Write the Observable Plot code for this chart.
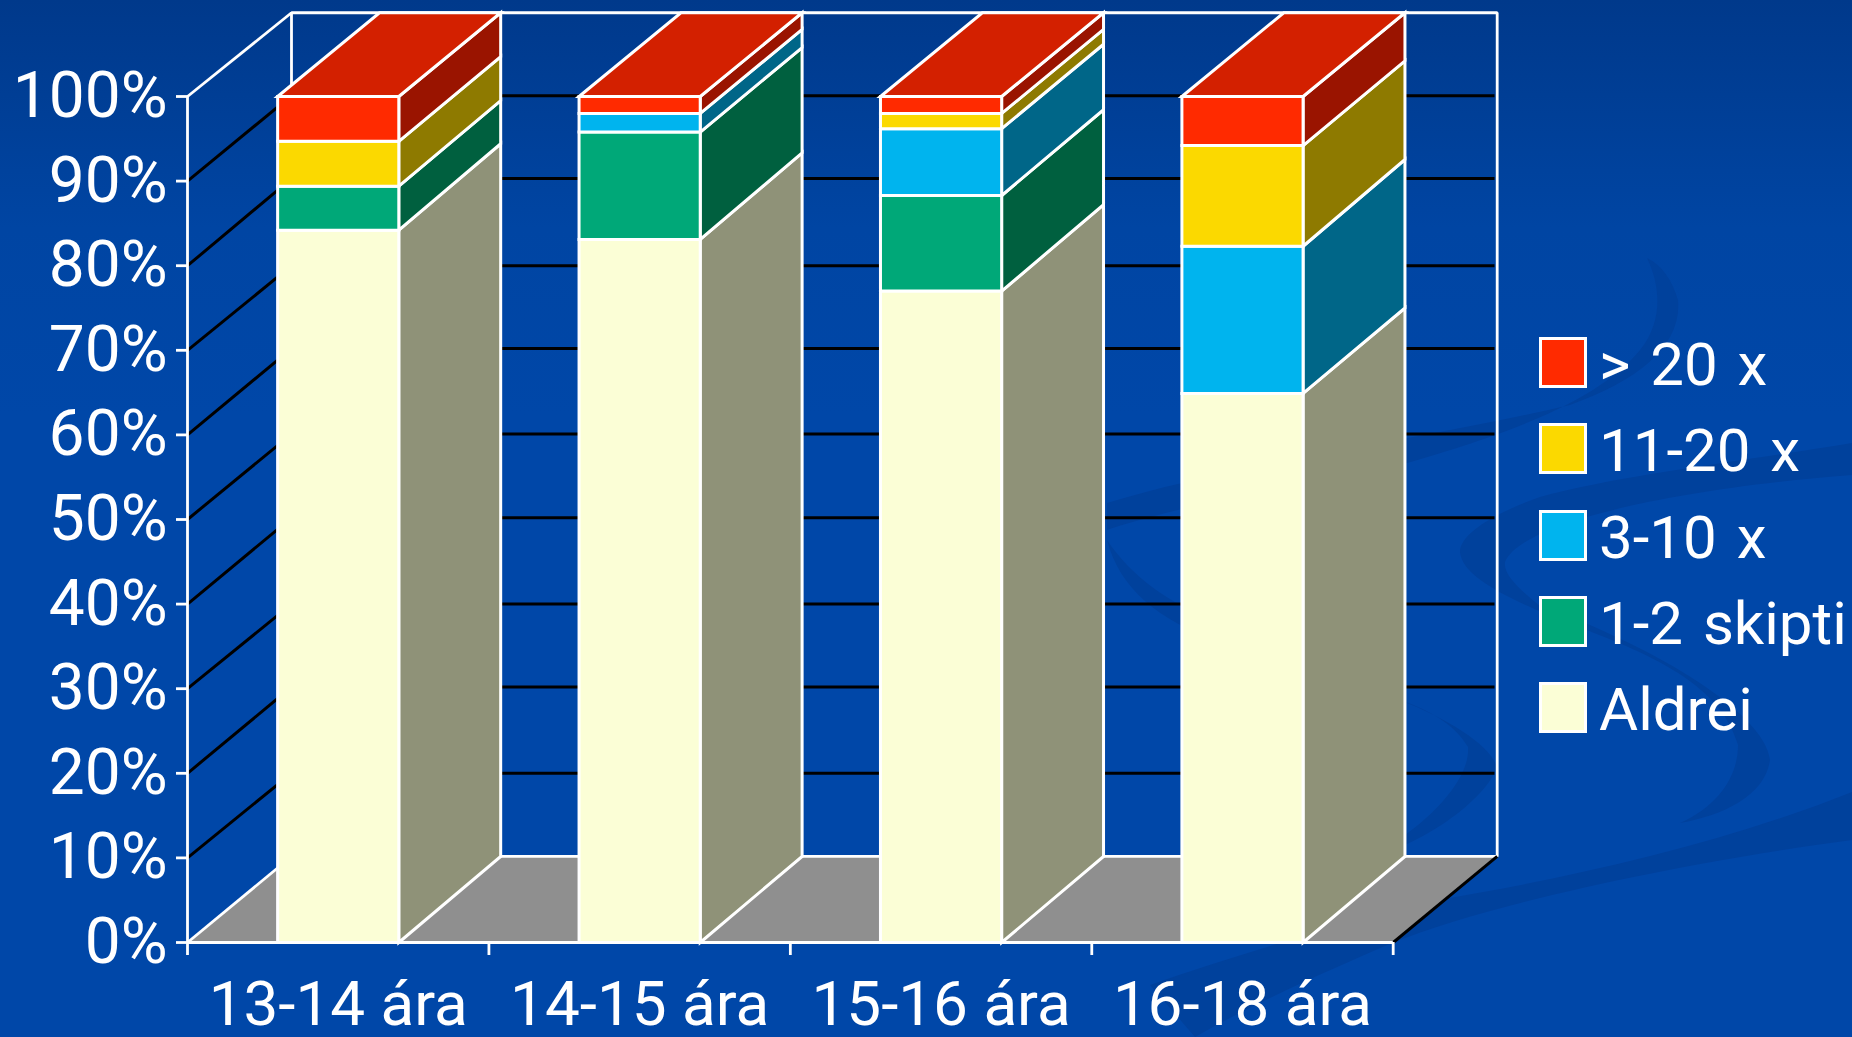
<!DOCTYPE html>
<html lang="is">
<head>
<meta charset="utf-8">
<title>Tíðni eftir aldri</title>
<script src="https://cdn.jsdelivr.net/npm/d3@7"></script>
<script src="https://cdn.jsdelivr.net/npm/@observablehq/plot@0.6"></script>
<style>
  html, body { margin: 0; padding: 0; width: 1852px; height: 1037px; overflow: hidden; background: #0047a8; }
  #stage { position: relative; width: 1852px; height: 1037px; }
  #backdrop, #chart { position: absolute; left: 0; top: 0; }
  #chart svg { display: block; background: transparent; }
  #legend { position: absolute; left: 0; top: 0; font-family: Roboto, sans-serif; font-size: 60px; word-spacing: 5px; color: #fff; }
  .key { position: absolute; left: 1539px; width: 48px; height: 51px; box-sizing: border-box; border: 3px solid #fff; }
  .name { position: absolute; left: 1599px; line-height: 60px; white-space: nowrap; }
</style>
</head>
<body>
<div id="stage">
  <svg id="backdrop" width="1852" height="1037">
    <defs>
      <linearGradient id="sky" x1="0" y1="0" x2="0" y2="1">
        <stop offset="0" stop-color="#00398b"/>
        <stop offset="0.22" stop-color="#0045a3"/>
        <stop offset="0.4" stop-color="#0047a8"/>
      </linearGradient>
    </defs>
    <rect width="1852" height="1037" fill="url(#sky)"/>
    <g fill="#00419c">
      <path d="M1107 503 C1230 465 1420 440 1570 405 C1640 380 1682 345 1678 300 C1672 280 1662 265 1647 258 C1660 285 1664 320 1640 350 C1610 385 1560 420 1400 465 C1300 485 1180 505 1107 530 Z"/>
      <path d="M1852 443 C1750 460 1620 475 1540 497 C1490 515 1460 535 1460 552 C1462 575 1500 595 1560 620 C1640 650 1720 680 1738 745 C1738 775 1720 805 1680 823 C1725 815 1765 795 1770 760 C1765 710 1640 640 1540 606 C1520 590 1503 575 1505 562 C1520 525 1660 490 1852 475 Z"/>
      <path d="M1107 540 C1120 590 1160 620 1215 640 L1215 620 C1170 605 1130 575 1107 540 Z"/>
      <path d="M1400 700 C1450 720 1490 745 1497 767 C1490 790 1450 825 1405 845 L1405 835 C1440 810 1470 775 1468 747 C1455 725 1430 710 1400 700 Z"/>
      <path d="M1852 792 C1720 845 1560 880 1437 900 C1340 925 1250 950 1150 985 L1195 1037 C1260 1000 1330 970 1392 943 C1500 900 1700 860 1852 840 Z"/>
    </g>
  </svg>
  <div id="chart"></div>
  <div id="legend"></div>
</div>
<script>
// Age groups along the front edge of the floor
const ageGroups = ["13-14 ára", "14-15 ára", "15-16 ára", "16-18 ára"];

// Share of respondents (%) per frequency band, bottom of the stack first
const aldrei = [84.2, 83.1, 77.0, 64.9];
const skipti1to2 = [5.2, 12.7, 11.3, 0];
const times3to10 = [0, 2.2, 7.9, 17.4];
const times11to20 = [5.3, 0, 1.8, 11.9];
const over20 = [5.3, 2.0, 2.0, 5.8];

const bandNames = ["Aldrei", "1-2 skipti", "3-10 x", "11-20 x", "> 20 x"];
const bandValues = [aldrei, skipti1to2, times3to10, times11to20, over20];
const frontColors = ["#fbfed6", "#00a878", "#00b4ee", "#fbd900", "#ff2a00"];
const sideColors = ["#8f9278", "#00603f", "#006688", "#8e7a00", "#9a1400"];
const topColor = "#d32000";
const floorColor = "#8f8f8f";

const percentTicks = d3.range(0, 101, 10);
const innerTicks = percentTicks.slice(1, -1);

// Oblique projection: each tick's height once pushed to the back of the box
const backLevels = [10.17, 20.0, 30.2, 40.0, 50.2, 60.1, 70.2, 80.0, 90.3, 100.1, 109.9];
const backOf = d3.scaleLinear(percentTicks, backLevels);
const wallDepth = 0.345;
const barDepth = 0.338;
const barWidth = 0.402;

// One closed outline per bar face, side faces first so the front sits on top
const faces = [];
const addFace = (id, fill, corners) => corners.forEach(([x, y]) => faces.push({id, fill, x, y}));

ageGroups.forEach((group, i) => {
  const left = i + 0.5 - barWidth / 2;
  const right = i + 0.5 + barWidth / 2;
  let base = 0;
  const segments = [];
  bandValues.forEach((values, b) => {
    if (values[i] > 0) {
      segments.push({b, y1: base, y2: base + values[i]});
      base += values[i];
    }
  });
  const total = base;
  segments.forEach(({b, y1, y2}) => {
    addFace(`side-${i}-${b}`, sideColors[b], [
      [right, y1], [right + barDepth, backOf(y1)], [right + barDepth, backOf(y2)], [right, y2]
    ]);
  });
  addFace(`top-${i}`, topColor, [
    [left, total], [left + barDepth, backOf(total)], [right + barDepth, backOf(total)], [right, total]
  ]);
  segments.forEach(({b, y1, y2}) => {
    addFace(`front-${i}-${b}`, frontColors[b], [[left, y1], [right, y1], [right, y2], [left, y2]]);
  });
});

const floor = [
  {x: 0, y: 0}, {x: 4, y: 0}, {x: 4 + wallDepth, y: backOf(0)}, {x: wallDepth, y: backOf(0)}
];
const backWall = [
  {x: wallDepth, y: backOf(0)}, {x: wallDepth, y: backOf(100)},
  {x: 4 + wallDepth, y: backOf(100)}, {x: 4 + wallDepth, y: backOf(0)}
];

const chart = Plot.plot({
  width: 1852,
  height: 1037,
  marginLeft: 187,
  marginRight: 459.3,
  marginTop: 96,
  marginBottom: 95,
  style: {background: "transparent", overflow: "visible"},
  x: {domain: [0, 4]},
  y: {domain: [0, 100]},
  color: {type: "identity"},
  marks: [
    // Floor
    Plot.line(floor, {x: "x", y: "y", fill: floorColor, stroke: "none", curve: "linear-closed"}),
    // Gridlines: side wall diagonals and back wall horizontals
    Plot.link(innerTicks, {
      x1: 0, y1: (d) => d, x2: wallDepth, y2: (d) => backOf(d),
      stroke: "#000", strokeWidth: 3
    }),
    Plot.link(innerTicks, {
      x1: wallDepth, y1: (d) => backOf(d), x2: 4 + wallDepth - 0.009, y2: (d) => backOf(d),
      stroke: "#000", strokeWidth: 3
    }),
    // Box outline
    Plot.line(backWall, {x: "x", y: "y", stroke: "#fff", strokeWidth: 2.8, curve: "linear-closed", strokeLinejoin: "miter"}),
    Plot.link([0, 100], {
      x1: 0, y1: (d) => d, x2: wallDepth, y2: (d) => backOf(d),
      stroke: "#fff", strokeWidth: 2.8
    }),
    Plot.link([0], {
      x1: 4, y1: 0, x2: 4 + wallDepth, y2: backOf(0),
      stroke: "#000", strokeWidth: 3
    }),
    Plot.ruleX([0], {y1: 0, y2: 100, stroke: "#fff", strokeWidth: 2.8}),
    Plot.ruleY([0], {x1: 0, x2: 4, stroke: "#fff", strokeWidth: 2.8}),
    // Bars
    Plot.line(faces, {
      x: "x", y: "y", z: "id", fill: "fill",
      stroke: "#fff", strokeWidth: 3,
      curve: "linear-closed", strokeLinejoin: "miter", strokeMiterlimit: 4
    }),
    // Axes
    Plot.axisY({
      ticks: percentTicks, tickFormat: (d) => `${d}%`, tickSize: 11, tickPadding: 9,
      color: "#fff", strokeWidth: 2.8, fontSize: 64, fontFamily: "Roboto", label: null
    }),
    Plot.axisX({
      ticks: d3.range(0, 5), tickFormat: () => "", tickSize: 13,
      color: "#fff", strokeWidth: 2.8, label: null
    }),
    Plot.axisX({
      ticks: ageGroups.map((_, i) => i + 0.5), tickFormat: (d) => ageGroups[Math.floor(d)],
      tickSize: 0, tickPadding: 38,
      color: "#fff", fontSize: 62, fontFamily: "Roboto", label: null
    })
  ]
});
document.getElementById("chart").append(chart);

// Legend, topmost band first
const legend = document.getElementById("legend");
const rowTop = [337, 423, 510, 596, 682];
bandNames.slice().reverse().forEach((name, r) => {
  const color = frontColors[bandNames.length - 1 - r];
  const key = document.createElement("div");
  key.className = "key";
  key.style.top = `${rowTop[r]}px`;
  key.style.background = color;
  const label = document.createElement("div");
  label.className = "name";
  label.style.top = `${rowTop[r] - 2}px`;
  label.textContent = name;
  legend.append(key, label);
});
</script>
</body>
</html>
